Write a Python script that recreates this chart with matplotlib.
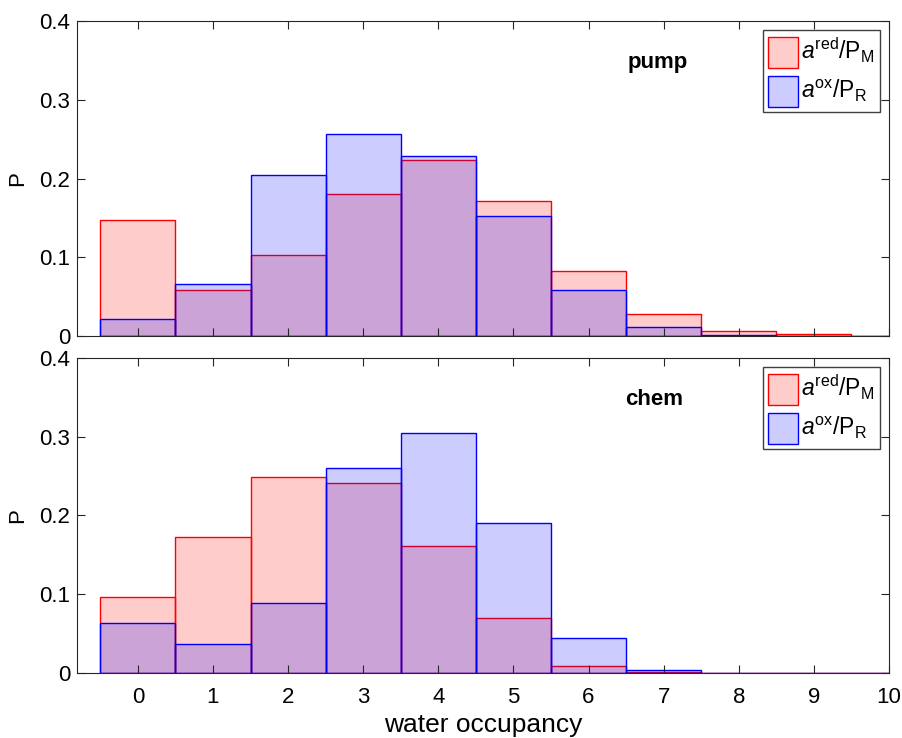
import numpy as np
import matplotlib
matplotlib.use("Agg")
import matplotlib.pyplot as plt
from matplotlib.patches import Patch

plt.rcParams['font.family'] = ['Liberation Sans', 'DejaVu Sans']
plt.rcParams['mathtext.fontset'] = 'custom'
plt.rcParams['mathtext.rm'] = 'Liberation Sans'
plt.rcParams['mathtext.it'] = 'Liberation Sans:italic'

occupancy = np.arange(0, 11)
# top panel: pump
pump_red = [0.147, 0.058, 0.1025, 0.180, 0.224, 0.171, 0.082, 0.0275, 0.0068, 0.002, 0.0006]
pump_ox = [0.022, 0.066, 0.205, 0.256, 0.228, 0.152, 0.059, 0.012, 0.0012, 0.0005, 0.0002]
# bottom panel: chem
chem_red = [0.096, 0.173, 0.249, 0.241, 0.161, 0.070, 0.009, 0.0012, 0.0003, 0.0001, 0.0]
chem_ox = [0.064, 0.037, 0.089, 0.260, 0.305, 0.191, 0.045, 0.0035, 0.0006, 0.0003, 0.0]
xticks = list(range(0, 11))
yticks = [0, 0.1, 0.2, 0.3, 0.4]
ytick_labels = ['0', '0.1', '0.2', '0.3', '0.4']

lab_red = r'$a^{\mathrm{red}}/\mathrm{P}_\mathrm{M}$'
lab_ox = r'$a^{\mathrm{ox}}/\mathrm{P}_\mathrm{R}$'

fig = plt.figure(figsize=(9.03, 7.38), dpi=100)
ax1 = fig.add_axes([0.0853, 0.5447, 0.8992, 0.4268])
ax2 = fig.add_axes([0.0853, 0.0881, 0.8992, 0.4268])


def panel(ax, red, ox, name, name_x):
    ax.bar(occupancy, red, width=1.0, facecolor=(1, 0, 0, 0.2), edgecolor='red', linewidth=1.0)
    ax.bar(occupancy, ox, width=1.0, facecolor=(0, 0, 1, 0.2), edgecolor='blue', linewidth=1.0)
    ax.set_xlim(-0.81, 10)
    ax.set_ylim(0, 0.4)
    ax.set_xticks(xticks)
    ax.set_yticks(yticks)
    ax.set_yticklabels(ytick_labels)
    ax.tick_params(direction='in', length=6, top=True, right=True, labelsize=16, color='0.15')
    ax.tick_params(axis='x', pad=10)
    ax.tick_params(axis='y', pad=5)
    for s in ax.spines.values():
        s.set_color('0.15')
    ax.set_ylabel('P', fontsize=16, labelpad=8)
    ax.text(name_x, 0.34, name, fontsize=16, fontweight='bold', ha='center', va='baseline')
    handles = [Patch(facecolor=(1, 0.8, 0.8), edgecolor='red', label=lab_red),
               Patch(facecolor=(0.8, 0.8, 1), edgecolor='blue', label=lab_ox)]
    leg = ax.legend(handles=handles, loc='upper right', fontsize=16.5, fancybox=False,
                    framealpha=1, edgecolor='0.25', handlelength=1.3, handleheight=1.7,
                    handletextpad=0.12, borderpad=0.25, labelspacing=0.35,
                    borderaxespad=0, bbox_to_anchor=(0.989, 0.971))
    leg.get_frame().set_linewidth(1.0)


panel(ax1, pump_red, pump_ox, 'pump', 6.92)
panel(ax2, chem_red, chem_ox, 'chem', 6.87)
ax1.set_xticklabels([])
ax2.set_xlabel('water occupancy', fontsize=19, labelpad=4)

fig.savefig('out.png', dpi=100)
